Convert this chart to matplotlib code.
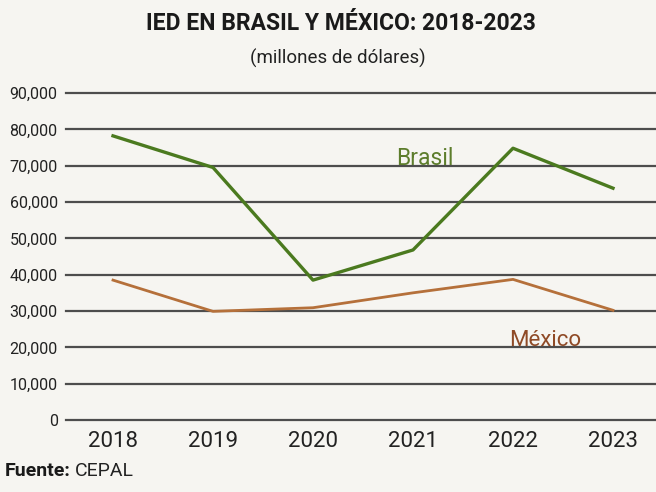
import matplotlib.pyplot as plt
from matplotlib.ticker import FuncFormatter

# datos (millones de dólares)
years = [2018, 2019, 2020, 2021, 2022, 2023]
brasil = [78200, 69500, 38500, 46800, 74800, 63800]
mexico = [38500, 29900, 30900, 35000, 38700, 30200]
yticks = [0, 10000, 20000, 30000, 40000, 50000, 60000, 70000, 80000, 90000]

plt.rcParams['font.family'] = ['Roboto', 'DejaVu Sans']

bg = '#f6f5f1'
fig = plt.figure(figsize=(6.56, 4.92), dpi=100, facecolor=bg)
ax = fig.add_axes([66 / 656, 1 - 420 / 492, (656 - 66) / 656, (420 - 93) / 492])
ax.set_facecolor(bg)

for v in yticks:
    ax.axhline(v, color='#4d4d4d', lw=1.6, zorder=1, clip_on=False)

ax.plot(years, brasil, color='#4b7a1f', lw=2.4, zorder=3)
ax.plot(years, mexico, color='#b5703a', lw=2.0, zorder=3)

ax.text(2020.83, 72000, 'Brasil', color='#5d7d2c', fontsize=16.5, ha='left', va='center')
ax.text(2021.96, 22000, 'México', color='#8f4a26', fontsize=16, ha='left', va='center')

ax.set_xlim(2017.53, 2023.43)
ax.set_ylim(0, 90000)
ax.set_xticks(years)
ax.set_xticklabels([str(y) for y in years], fontsize=16, color='#222222')
ax.set_yticks(yticks)
ax.yaxis.set_major_formatter(FuncFormatter(lambda v, p: f'{int(v):,}'))
ax.tick_params(axis='y', length=0, pad=6, labelsize=11.5, labelcolor='#222222')
ax.tick_params(axis='x', length=0, pad=8)
for s in ax.spines.values():
    s.set_visible(False)

fig.text(0.52, 0.952, 'IED EN BRASIL Y MÉXICO: 2018-2023', ha='center', va='center',
         fontsize=16.5, fontweight='bold', color='#1a1a1a')
fig.text(0.515, 0.882, '(millones de dólares)', ha='center', va='center',
         fontsize=13.5, color='#222222')
fuente = fig.text(0.008, 0.042, 'Fuente:', ha='left', va='center', fontsize=14,
                  fontweight='bold', color='#1a1a1a')
fig.canvas.draw()
bb = fuente.get_window_extent()
fig.text(bb.x1 / fig.bbox.width + 0.006, 0.042, 'CEPAL', ha='left', va='center',
         fontsize=14, color='#222222')

fig.savefig('out.png', dpi=100, facecolor=bg)
